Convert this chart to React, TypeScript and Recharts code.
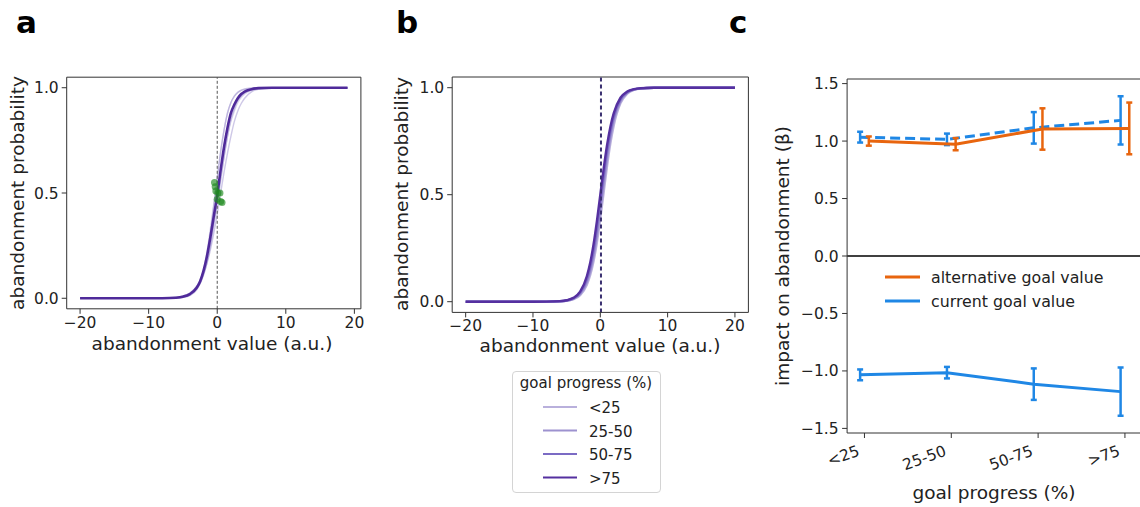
import React from 'react';
import { LineChart, Line, XAxis, YAxis, ReferenceLine, ErrorBar } from 'recharts';

const FONT = '"DejaVu Sans", Verdana, sans-serif';
const INK = '#222';
const SPINE = '#333';

// ---- panel a: individual fits + mean fit ----
const A_X = [-20, -15, -10, -8, -6, -5, -4, -3, -2.5, -2, -1.5, -1, -0.5, 0, 0.5, 1, 1.5, 2, 2.5, 3, 3.5, 4, 5, 6, 8, 10, 15, 19];
const A_MEAN = [0, 0, 0.0001, 0.0004, 0.0027, 0.0074, 0.02, 0.05, 0.08, 0.13, 0.2, 0.29, 0.39, 0.49, 0.61, 0.72, 0.81, 0.88, 0.92, 0.95, 0.97, 0.982, 0.993, 0.998, 1, 1, 1, 1];
const A_FIT_1 = [0, 0, 0, 0.0002, 0.0015, 0.005, 0.015, 0.045, 0.08, 0.135, 0.22, 0.33, 0.45, 0.57, 0.69, 0.8, 0.88, 0.93, 0.96, 0.978, 0.988, 0.994, 0.998, 1, 1, 1, 1, 1];
const A_FIT_2 = [0, 0, 0.0003, 0.001, 0.005, 0.011, 0.025, 0.055, 0.08, 0.115, 0.165, 0.23, 0.31, 0.4, 0.5, 0.6, 0.69, 0.77, 0.84, 0.89, 0.925, 0.95, 0.98, 0.993, 0.999, 1, 1, 1];
const A_FIT_3 = [0, 0, 0.0001, 0.0003, 0.002, 0.006, 0.017, 0.045, 0.07, 0.11, 0.17, 0.25, 0.35, 0.45, 0.56, 0.67, 0.77, 0.85, 0.9, 0.94, 0.96, 0.975, 0.99, 0.997, 1, 1, 1, 1];
const A_FIT_4 = [0, 0, 0, 0.0002, 0.0012, 0.004, 0.013, 0.04, 0.07, 0.12, 0.2, 0.31, 0.44, 0.57, 0.7, 0.8, 0.88, 0.93, 0.96, 0.978, 0.988, 0.993, 0.998, 1, 1, 1, 1, 1];
const A_FIT_5 = [0, 0, 0.0002, 0.0008, 0.004, 0.01, 0.024, 0.058, 0.088, 0.13, 0.19, 0.27, 0.37, 0.47, 0.58, 0.68, 0.77, 0.84, 0.89, 0.93, 0.955, 0.97, 0.988, 0.996, 1, 1, 1, 1];
const A_DOT_X = [-0.4, -0.3, -0.2, 0.0, 0.1, 0.4, 0.5, 0.7];
const A_DOT_Y = [0.55, 0.53, 0.51, 0.47, 0.5, 0.5, 0.46, 0.455];

// ---- panel b: fit per goal progress group ----
const GOAL_GROUPS = ['<25', '25-50', '50-75', '>75'];
const GROUP_COLORS = ['#b9b0dc', '#9d92cf', '#7b6bc4', '#5530a0'];
const B_X = [-20, -15, -10, -8, -6, -5, -4, -3, -2, -1.5, -1, -0.5, 0, 0.5, 1, 1.5, 2, 3, 4, 5, 6, 8, 10, 15, 20];
const B_LT25 = [0, 0, 0, 0.0002, 0.0016, 0.0043, 0.0116, 0.0308, 0.0794, 0.1246, 0.19, 0.279, 0.389, 0.512, 0.634, 0.741, 0.825, 0.928, 0.972, 0.9896, 0.9961, 0.9995, 1, 1, 1];
const B_25_50 = [0, 0, 0, 0.0003, 0.0018, 0.005, 0.0134, 0.0356, 0.0911, 0.142, 0.214, 0.31, 0.426, 0.55, 0.668, 0.769, 0.849, 0.937, 0.976, 0.991, 0.9967, 0.9996, 1, 1, 1];
const B_50_75 = [0, 0, 0, 0.0003, 0.0021, 0.0058, 0.0155, 0.041, 0.104, 0.161, 0.24, 0.343, 0.463, 0.587, 0.701, 0.794, 0.864, 0.945, 0.979, 0.992, 0.997, 0.9997, 1, 1, 1];
const B_GT75 = [0, 0, 0, 0.0003, 0.0025, 0.0067, 0.018, 0.047, 0.119, 0.182, 0.269, 0.378, 0.5, 0.622, 0.731, 0.818, 0.881, 0.953, 0.982, 0.993, 0.9975, 0.9997, 1, 1, 1];

// ---- panel c: regression weights ----
const C_CATS = ['<25', '25-50', '50-75', '>75'];
const C_ALT = [1.0, 0.973, 1.105, 1.11];
const C_ALT_ERR = [0.04, 0.053, 0.18, 0.225];
const C_CUR = [-1.034, -1.015, -1.115, -1.18];
const C_CUR_ERR = [0.047, 0.05, 0.137, 0.21];
const DODGE = 0.05;
const ORANGE = '#e8650e';
const BLUE = '#1f87e5';

const aRows = A_X.map((x, i) => ({
  x,
  mean: A_MEAN[i],
  f1: A_FIT_1[i],
  f2: A_FIT_2[i],
  f3: A_FIT_3[i],
  f4: A_FIT_4[i],
  f5: A_FIT_5[i],
}));
const aDots = A_DOT_X.map((x, i) => ({ x, y: A_DOT_Y[i] }));
const bRows = B_X.map((x, i) => ({ x, g0: B_LT25[i], g1: B_25_50[i], g2: B_50_75[i], g3: B_GT75[i] }));
const curRows = C_CATS.map((_, i) => ({ x: i - DODGE, v: C_CUR[i], e: C_CUR_ERR[i], abs: -C_CUR[i] }));
const altRows = C_CATS.map((_, i) => ({ x: i + DODGE, v: C_ALT[i], e: C_ALT_ERR[i] }));

const tickStyle = { fill: INK, fontSize: 15.5, fontFamily: FONT };
const minus = (s: string) => s.replace('-', '\u2212');

function SlantTick(props: any) {
  const { x, y, payload } = props;
  const tx = x - 4;
  const ty = y + 15;
  return (
    <text x={tx} y={ty} textAnchor="end" transform={`rotate(-20 ${tx} ${ty})`} fill={INK} fontSize={15.5} fontFamily={FONT}>
      {C_CATS[payload.value]}
    </text>
  );
}

export default function App() {
  const fitColors = [GROUP_COLORS[0], GROUP_COLORS[1], GROUP_COLORS[2], GROUP_COLORS[1], GROUP_COLORS[0]];
  return (
    <div style={{ position: 'relative', width: 1140, height: 507, overflow: 'hidden', background: '#fff', fontFamily: FONT }}>
      <style>{'body{margin:0}'}</style>

      {/* panel a */}
      <div style={{ position: 'absolute', left: 0, top: 0 }}>
        <LineChart width={380} height={360} margin={{ top: 77.2, left: 16.7, right: 19.1, bottom: 21.2 }}>
          <XAxis dataKey="x" type="number" domain={[-21.95, 20.95]} allowDataOverflow ticks={[-20, -10, 0, 10, 20]}
            tickFormatter={(v) => minus(String(v))} tick={tickStyle} tickSize={5} tickMargin={3} height={30}
            stroke={SPINE} />
          <YAxis type="number" domain={[-0.05, 1.05]} allowDataOverflow ticks={[0, 0.5, 1]} tickFormatter={(v) => v.toFixed(1)}
            tick={tickStyle} tickSize={5} tickMargin={3} width={50} stroke={SPINE} />
          <ReferenceLine y={1.05} stroke={SPINE} strokeWidth={1} />
          <ReferenceLine x={20.95} stroke={SPINE} strokeWidth={1} />
          {['f1', 'f2', 'f3', 'f4', 'f5'].map((k, i) => (
            <Line key={k} data={aRows} dataKey={k} type="monotone" stroke={fitColors[i]} strokeOpacity={0.5} strokeWidth={1.4} dot={false} isAnimationActive={false} />
          ))}
          <Line data={aRows} dataKey="mean" type="monotone" stroke="#4f2a9a" strokeWidth={2.6} dot={false} isAnimationActive={false} />
          <ReferenceLine x={0} stroke="#555" strokeDasharray="3 2" strokeWidth={1} />
          <Line data={aDots} dataKey="y" stroke="none" dot={{ r: 3.5, fill: '#1f8a1f', fillOpacity: 0.65, stroke: 'none' }} isAnimationActive={false} />
        </LineChart>
      </div>

      {/* panel b */}
      <div style={{ position: 'absolute', left: 380, top: 0 }}>
        <LineChart width={380} height={360} margin={{ top: 77, left: 22.2, right: 11.6, bottom: 17.6 }}>
          <XAxis dataKey="x" type="number" domain={[-22, 22]} allowDataOverflow ticks={[-20, -10, 0, 10, 20]}
            tickFormatter={(v) => minus(String(v))} tick={tickStyle} tickSize={5} tickMargin={3} height={30}
            stroke={SPINE} />
          <YAxis type="number" domain={[-0.05, 1.05]} allowDataOverflow ticks={[0, 0.5, 1]} tickFormatter={(v) => v.toFixed(1)}
            tick={tickStyle} tickSize={5} tickMargin={3} width={50} stroke={SPINE} />
          <ReferenceLine y={1.05} stroke={SPINE} strokeWidth={1} />
          <ReferenceLine x={22} stroke={SPINE} strokeWidth={1} />
          {['g0', 'g1', 'g2', 'g3'].map((k, i) => (
            <Line key={k} data={bRows} dataKey={k} name={GOAL_GROUPS[i]} type="monotone" stroke={GROUP_COLORS[i]} strokeWidth={2.4} dot={false} isAnimationActive={false} />
          ))}
          <ReferenceLine x={0.1} stroke="#3a3070" strokeDasharray="4 3" strokeWidth={2} />
        </LineChart>
      </div>

      {/* panel c */}
      <div style={{ position: 'absolute', left: 760, top: 0 }}>
        <LineChart width={400} height={507} margin={{ top: 79, left: 27.1, right: 17.7, bottom: 24 }}>
          <XAxis dataKey="x" type="number" domain={[-0.2, 3.2]} allowDataOverflow ticks={[0, 1, 2, 3]}
            tick={<SlantTick />} tickSize={5} tickMargin={2} height={50} stroke={SPINE} interval={0} />
          <YAxis type="number" domain={[-1.54, 1.54]} allowDataOverflow ticks={[-1.5, -1, -0.5, 0, 0.5, 1, 1.5]}
            tickFormatter={(v) => minus(v.toFixed(1))} tick={tickStyle} tickSize={5} tickMargin={3.5} width={60} stroke={SPINE} />
          <ReferenceLine y={1.54} stroke={SPINE} strokeWidth={1} />
          <ReferenceLine y={0} stroke="#000" strokeWidth={1.3} />
          <Line data={curRows} dataKey="abs" stroke={BLUE} strokeWidth={3} strokeDasharray="10 5" dot={false} isAnimationActive={false}>
            <ErrorBar dataKey="e" direction="y" width={3} stroke={BLUE} strokeWidth={2.5} />
          </Line>
          <Line data={altRows} dataKey="v" stroke={ORANGE} strokeWidth={3} dot={false} isAnimationActive={false}>
            <ErrorBar dataKey="e" direction="y" width={3} stroke={ORANGE} strokeWidth={2.5} />
          </Line>
          <Line data={curRows} dataKey="v" stroke={BLUE} strokeWidth={3} dot={false} isAnimationActive={false}>
            <ErrorBar dataKey="e" direction="y" width={3} stroke={BLUE} strokeWidth={2.5} />
          </Line>
        </LineChart>
      </div>

      {/* legend of panel b */}
      <div style={{ position: 'absolute', left: 512, top: 371, width: 147, height: 120, border: '1px solid #d4d4d4', borderRadius: 4, background: '#fff' }} />

      {/* text overlay */}
      <svg width={1140} height={507} style={{ position: 'absolute', left: 0, top: 0, pointerEvents: 'none' }} fontFamily={FONT} fill={INK}>
        <text x={16} y={33} fontSize={31} fontWeight="bold" fill="#000">a</text>
        <text x={396} y={33} fontSize={31} fontWeight="bold" fill="#000">b</text>
        <text x={729} y={33} fontSize={31} fontWeight="bold" fill="#000">c</text>

        <text x={212} y={350} fontSize={18.5} textAnchor="middle">abandonment value (a.u.)</text>
        <text x={24} y={193} fontSize={18.5} textAnchor="middle" transform="rotate(-90 24 193)">abandonment probability</text>
        <text x={600} y={351.5} fontSize={18.5} textAnchor="middle">abandonment value (a.u.)</text>
        <text x={408} y={194} fontSize={18.5} textAnchor="middle" transform="rotate(-90 408 194)">abandonment probability</text>
        <text x={789} y={256} fontSize={18.5} textAnchor="middle" transform="rotate(-90 789 256)">impact on abandonment (β)</text>
        <text x={994} y={499} fontSize={18.5} textAnchor="middle">goal progress (%)</text>

        <text x={586} y={388} fontSize={15} textAnchor="middle">goal progress (%)</text>
        {GOAL_GROUPS.map((g, i) => (
          <g key={g}>
            <line x1={543} x2={577} y1={407 + i * 23.5} y2={407 + i * 23.5} stroke={GROUP_COLORS[i]} strokeWidth={2.2} />
            <text x={589} y={413 + i * 23.5} fontSize={15}>{g}</text>
          </g>
        ))}

        <line x1={885} x2={920} y1={277} y2={277} stroke={ORANGE} strokeWidth={3} />
        <text x={931} y={282.5} fontSize={15.8}>alternative goal value</text>
        <line x1={885} x2={920} y1={301} y2={301} stroke={BLUE} strokeWidth={3} />
        <text x={931} y={306.5} fontSize={15.8}>current goal value</text>
      </svg>
    </div>
  );
}
